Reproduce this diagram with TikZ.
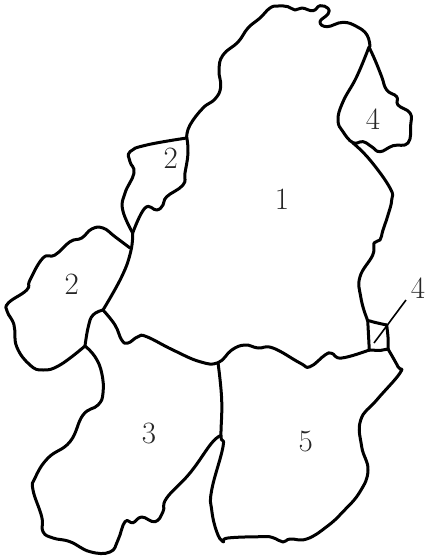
\documentclass[tikz,border=0pt]{standalone}
\begin{document}
\begin{tikzpicture}[x=0.5pt,y=-0.5pt,
  outline/.style={line width=1.5pt,line cap=round,line join=round},
  num/.style={inner sep=0pt,font=\fontsize{15.5}{17}\selectfont,text=black!85}]
\useasboundingbox (0,0) rectangle (425,558);
% outer top of region 1
\draw[outline] plot[smooth,tension=0.75] coordinates {(186.7,136.7)(190,125)(203,108)(215,99)(220.7,87)(219,70)(223,55)(238,42)(248,28)(260,18)(270,8)(278,6)(288,6.7)(295,10)(302,8)(313,10.7)(320,5.7)(328,8.3)(328,14)(320,21.7)(327,26.7)(343,22.3)(357,26.7)(367,35)(370,46.7)};
% region 4 (top right)
\draw[outline] plot[smooth,tension=0.75] coordinates {(369,47)(375,60)(381.7,76.7)(386.7,90)(396.7,96.7)(398,105)(410,113)(410.7,125)(408,143)(393,145.7)(380,151.7)(371.7,146.7)(363,141.7)(353,142.7)(343,131.7)(338,120)(343,101.7)(356.7,76.7)(369,47)};
% right edge of region 1
\draw[outline] plot[smooth,tension=0.75] coordinates {(353,143)(370,160)(390,188)(391.7,200)(388,215)(383,230)(380,240)(374,243)(372.7,255)(360,276.7)(360.7,296.7)(366.7,318)(370,321)(386.7,325)};
% small square
\draw[outline] plot[smooth,tension=0.3] coordinates {(367.7,320)(368.5,335)(369.3,350)};
\draw[outline] plot[smooth,tension=0.3] coordinates {(386.7,325)(388,337)(388,349)};
\draw[outline] (369.3,350) -- (380,350.5) -- (388,349);
% leader
\draw[line width=0.8pt] (406,300) -- (374,343);
% bottom edge of region 1
\draw[outline] plot[smooth,tension=0.75] coordinates {(369.3,350)(341.7,358)(331.7,353.3)(325,355)(310,366.7)(300,363)(273,348)(258,348)(245,345)(231.7,350)(218,362.7)(200,361.7)(173,350)(146.7,336.7)(138,336.7)(128,343)(121.7,340)(115,325)(103,310)};
% left edge of region 1
\draw[outline] plot[smooth,tension=0.75] coordinates {(103,310)(121.7,276.7)(130.7,251.7)(132.7,233)};
% upper region 2
\draw[outline] plot[smooth,tension=0.75] coordinates {(132.7,233)(145,208)(156.7,210)(163,205)(166.7,196.7)(183,185)(185,173)(188,153)(186.7,137)};
\draw[outline] plot[smooth,tension=0.75] coordinates {(186.7,138)(146.7,145)(130,151.7)(130,161.7)(134,173)(125,193)(122.7,210)(132.7,233)};
% lower region 2
\draw[outline] plot[smooth,tension=0.75] coordinates {(130,248)(115,236.7)(103,228)(91.7,229)(81.7,238)(70,241.7)(55,255)(43,258)(30,280)(26.7,290)(8.3,303)(7.3,311.7)(14,325)(16.7,346.7)(30,365)(43,370)(60,365)(85,346)};
\draw[outline] plot[smooth,tension=0.75] coordinates {(85,346)(88.3,326.7)(93,315)(103,310)};
% region 3 left and bottom
\draw[outline] plot[smooth,tension=0.75] coordinates {(85,346)(95,356.7)(101.7,373)(103,393)(98,405)(83,415)(70,441.7)(48,458)(35,478)(33,490)(41.7,516.7)(43,531.7)(53,538)(70,541.7)(90,551.7)(110,552)(118,540)(125,521.7)(133,522.7)(141.7,517)(155,521.7)(163,511.7)(166.7,498)(190,473)(211.7,443)(221,435.7)};
% vertical divider and region 5
\draw[outline] plot[smooth,tension=0.75] coordinates {(218,362.7)(221.7,400)(221,435.7)(223,446.7)(211.7,490)(211.7,510)(216.7,531.7)(223,541.7)(228,538)(263,536.7)(273,537.7)(283,542)(290,539)(306.7,539)(326.7,526.7)(343,511.7)(360,491.7)(368,470)(361.7,446.7)(360.7,420)(376.7,400)(400,373)(398,366.7)(388,349)};
\node[num] (n1) at (282,199) {1};
\node[num] (n2a) at (170.7,158) {2};
\node[num] (n2b) at (71.7,284) {2};
\node[num] (n4a) at (373,119) {4};
\node[num] (n4b) at (418,288) {4};
\node[num] (n3) at (149,433) {3};
\node[num] (n5) at (305.7,441.7) {5};
\end{tikzpicture}
\end{document}
